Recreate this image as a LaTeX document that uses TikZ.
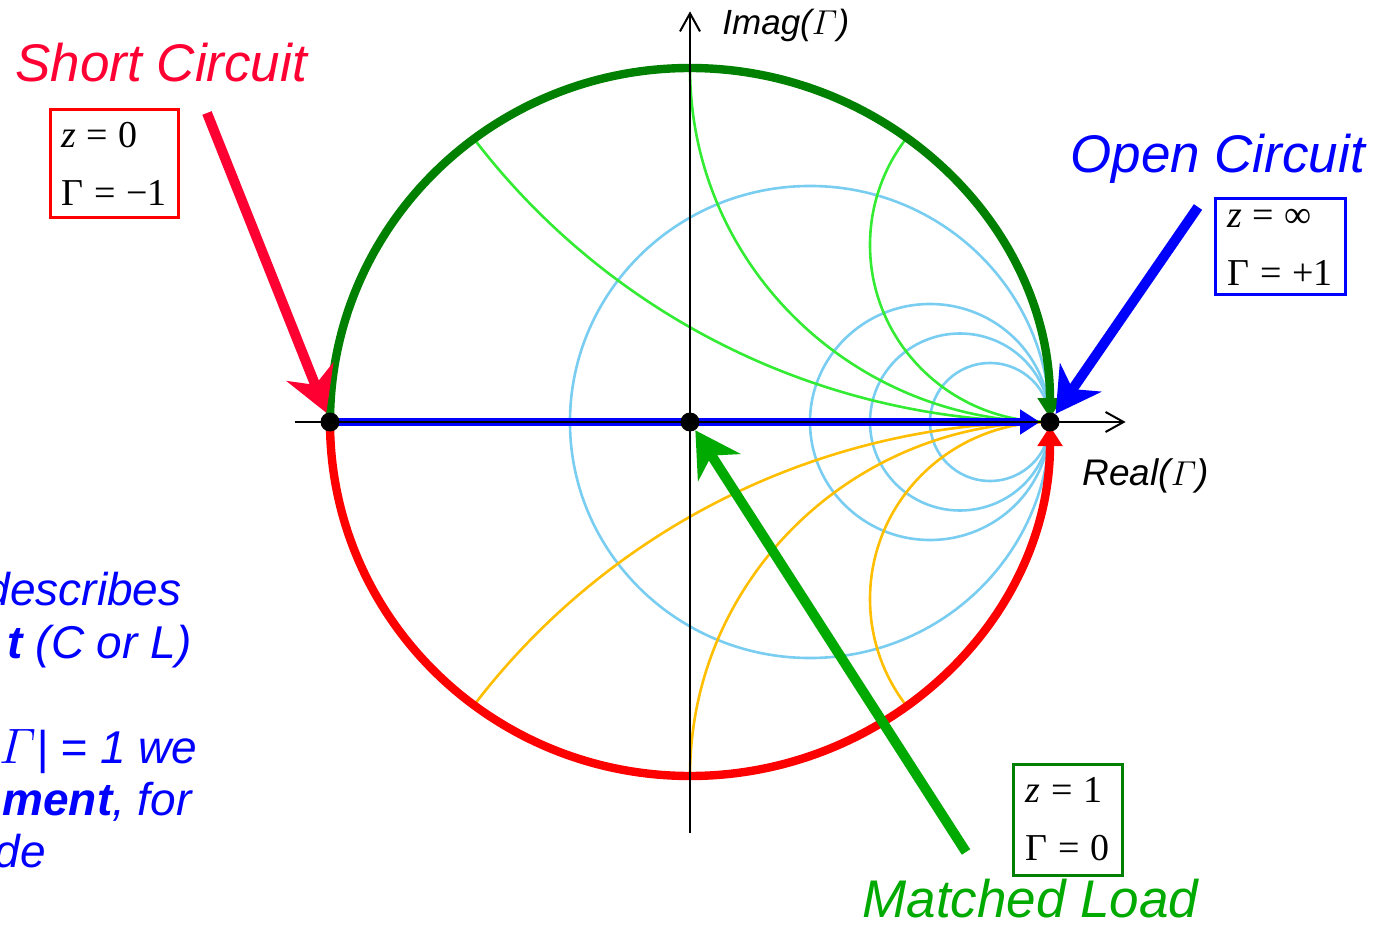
\documentclass[tikz,border=0pt]{standalone}
\usepackage{amsmath}
\usepackage[no-math]{fontspec}
\setmainfont{Liberation Sans}
\newfontfamily\boxfont{Liberation Serif}
\usetikzlibrary{arrows.meta,positioning}
\definecolor{chartSky}{RGB}{120, 205, 240}
\definecolor{chartLime}{RGB}{50, 235, 50}
\definecolor{chartAmber}{RGB}{255, 190, 0}
\definecolor{arcGreen}{RGB}{0, 128, 0}
\definecolor{arcRed}{RGB}{255, 0, 0}
\definecolor{shortRed}{RGB}{255, 0, 51}
\definecolor{openBlue}{RGB}{0, 0, 255}
\definecolor{matchGreen}{RGB}{0, 170, 0}
\newcommand{\eqsign}{\hspace{0.28em}=\hspace{0.28em}}

\tikzset{
  rline/.style={draw=chartSky, line width=1.3pt},
  xpos/.style={draw=chartLime, line width=1.3pt},
  xneg/.style={draw=chartAmber, line width=1.3pt},
  edgearc/.style={line width=4.2pt, shorten >=2pt, -{Triangle[length=10pt, width=12pt]}},
  gammaline/.style={draw=openBlue, line width=4pt, -{Triangle[length=10pt, width=12pt]}},
  axis/.style={draw=black, line width=1pt, -{Straight Barb[length=9pt, width=10pt]}},
  dot/.style={circle, fill=black, inner sep=0pt, minimum size=9.5pt},
  callout/.style={line width=5pt, -{Stealth[length=22pt, width=25pt, inset=7pt]}},
  valuebox/.style={draw, line width=1.5pt, align=left, inner sep=0pt,
    font=\boxfont\fontsize{19}{29}\selectfont, text=black},
  title/.style={font=\fontsize{26.5}{32}\selectfont\itshape, anchor=base west, inner sep=0pt},
  axislabel/.style={font=\fontsize{17.5}{21}\selectfont\itshape, anchor=base west, inner sep=0pt},
  sidenote/.style={font=\fontsize{23}{27}\selectfont\itshape, text=openBlue, anchor=base east, inner sep=0pt}
}

\begin{document}
\begin{tikzpicture}[x=0.5pt, y=-0.5pt]
  \useasboundingbox (0,0) rectangle (1382,925);
  \clip (0,0) rectangle (1382,925);

  % chart in units of Gamma
  \begin{scope}[shift={(690,422)}, x=180pt, y=177pt]
    \begin{scope}
      \clip (0,0) circle (1);
      \foreach \r in {0.5,2,3,5}
        \draw[rline] ({\r/(1+\r)},0) circle ({1/(1+\r)});
      \foreach \x in {0.5,1,2} {
        \draw[xpos] (1,{1/\x}) circle ({1/\x});
        \draw[xneg] (1,{-1/\x}) circle ({1/\x});
      }
    \end{scope}

    \draw[edgearc, arcGreen] (-1,0) arc[start angle=180, end angle=0, radius=1];
    \draw[edgearc, arcRed] (-1,0) arc[start angle=180, end angle=360, radius=1];

    \coordinate (scPoint) at (-1,0);
    \coordinate (mlPoint) at (0,0);
    \coordinate (ocPoint) at (1,0);
    \draw[gammaline] (scPoint) -- ([xshift=-5pt]ocPoint);

    % axes
    \coordinate (reStart) at (-1.097,0);
    \coordinate (reEnd) at (1.21,0);
    \coordinate (imStart) at (0,-1.161);
    \coordinate (imEnd) at (0,1.16);
    \draw[axis] (reStart) -- (reEnd);
    \draw[axis] (imStart) -- (imEnd);

    \node[dot] (scDot) at (scPoint) {};
    \node[dot] (mlDot) at (mlPoint) {};
    \node[dot] (ocDot) at (ocPoint) {};
  \end{scope}

  \node[axislabel] (imLabel) at (722,35) {Imag($\mathnormal{\Gamma}$)};
  \node[axislabel, font=\fontsize{18.5}{22}\selectfont\itshape] (reLabel) at (1082,485) {Real($\mathnormal{\Gamma}$)};

  % short circuit
  \coordinate (scTail) at (207,113);
  \draw[callout, shortRed] (scTail) -- (scDot);
  \node[title, text=shortRed] (scTitle) at (15,82) {Short Circuit};
  \node[valuebox, draw=red, minimum width=64pt, minimum height=54pt] (scBox) at (114,164)
    {\textit{z}\eqsign 0\\Γ\eqsign −1};

  % open circuit
  \coordinate (ocTail) at (1198,207);
  \draw[callout, openBlue] (ocTail) -- (ocDot);
  \node[title, text=openBlue] (ocTitle) at (1070,173) {Open Circuit};
  \node[valuebox, draw=openBlue, minimum width=65pt, minimum height=48pt] (ocBox) at (1280,247)
    {\textit{z}\eqsign ∞\\Γ\eqsign +1};

  % matched load
  \coordinate (mlTail) at (966,852);
  \draw[callout, matchGreen] (mlTail) -- (mlDot);
  \node[title, text=matchGreen] (mlTitle) at (862,917) {Matched Load};
  \node[valuebox, draw=arcGreen, minimum width=54.5pt, minimum height=55.5pt] (mlBox) at (1067.5,819.5)
    {\textit{z}\eqsign 1\\Γ\eqsign 0};

  % text cut at the left edge
  \node[sidenote] (noteA) at (182,605) {describes};
  \node[sidenote] (noteB) at (192,658) {\textbf{t} (C or L)};
  \node[sidenote] (noteC) at (198,763) {$\mathnormal{\Gamma}$| = 1 we};
  \node[sidenote] (noteD) at (192,815) {\textbf{ment}, for};
  \node[sidenote] (noteE) at (46,867) {de};
\end{tikzpicture}
\end{document}
